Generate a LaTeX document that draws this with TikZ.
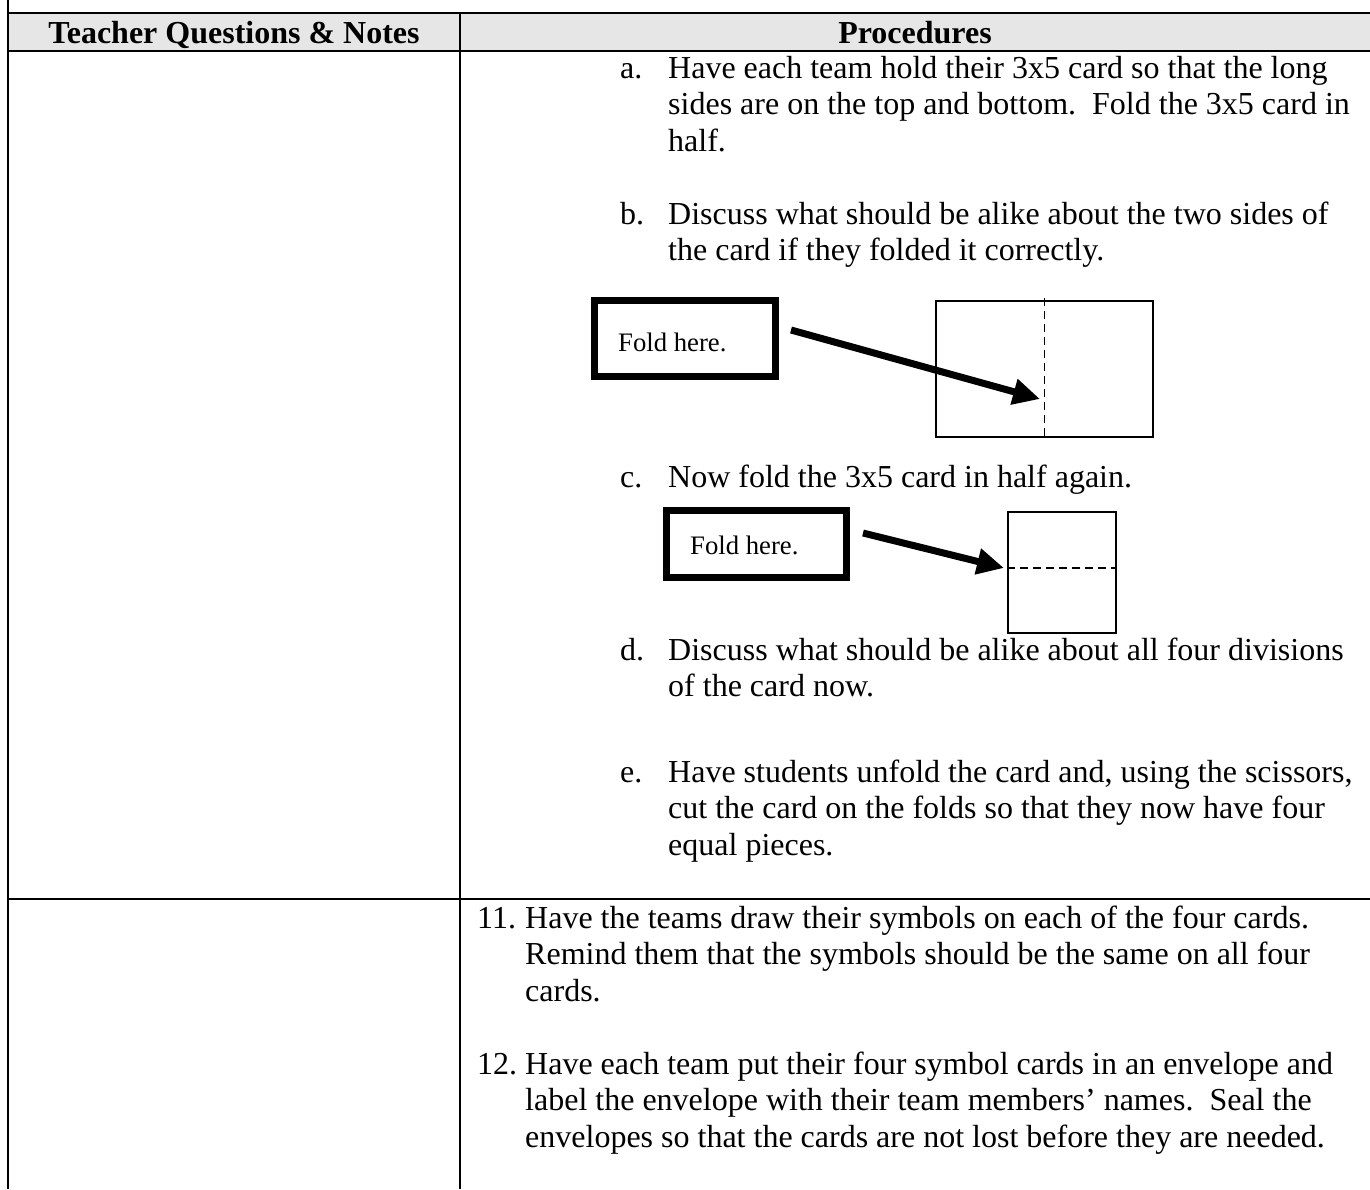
\documentclass[tikz,border=0pt]{standalone}
\usepackage{fontspec}
\setmainfont{Liberation Serif}
\usetikzlibrary{arrows.meta}
\definecolor{hdrgray}{HTML}{E6E6E6}
\newcommand{\bodyfont}{\fontsize{32}{38}\selectfont}
\newcommand{\foldfont}{\fontsize{26.7}{32}\selectfont}
\begin{document}
\begin{tikzpicture}[x=1pt,y=-1pt,
  rule/.style={line width=2.2pt},
  txt/.style={anchor=base west, inner sep=0pt, font=\bodyfont},
  head/.style={anchor=base, inner sep=0pt, font=\bodyfont\bfseries},
  foldtxt/.style={anchor=base west, inner sep=0pt, font=\foldfont},
  foldbox/.style={draw, line width=7pt, inner sep=0pt},
  card/.style={draw, line width=1.6pt, inner sep=0pt},
  foldline/.style={line width=1.8pt, dash pattern=on 8pt off 5pt},
  bigarrow/.style={line width=7pt, -{Triangle[length=27pt,width=25pt]}}
]
\useasboundingbox (0,0) rectangle (1370,1189);
% table
\fill[hdrgray] (8,13) rectangle (1370,51);
\draw[rule] (8,0) -- (8,1189);
\draw[rule] (8,13) -- (1370,13);
\draw[rule] (8,51) -- (1370,51);
\draw[rule] (8,899) -- (1370,899);
\draw[rule] (460,13) -- (460,1189);
% header
\node[head] (h1) at (234,43) {Teacher Questions \& Notes};
\node[head] (h2) at (915,43) {Procedures};
% a
\node[txt] (la) at (620,78) {a.};
\node[txt] (a1) at (668,78) {Have each team hold their 3x5 card so that the long};
\node[txt] (a2) at (668,114.5) {sides are on the top and bottom.\ \ Fold the 3x5 card in};
\node[txt] (a3) at (668,151) {half.};
% b
\node[txt] (lb) at (620,224) {b.};
\node[txt] (b1) at (668,224) {Discuss what should be alike about the two sides of};
\node[txt] (b2) at (668,260.5) {the card if they folded it correctly.};
% diagram 1
\node[foldbox, minimum width=181pt, minimum height=76pt] (box1) at (685,338) {};
\node[foldtxt] (f1) at (618,351) {Fold here.};
\node[card, minimum width=217pt, minimum height=136pt] (card1) at (1044.5,369) {};
\draw[foldline] ([yshift=2pt]card1.north) -- (card1.south);
\coordinate (s1) at (791,330);
\coordinate (t1) at (1040,399);
\draw[bigarrow] (s1) -- (t1);
% c
\node[txt] (lc) at (620,487) {c.};
\node[txt] (c1) at (668,487) {Now fold the 3x5 card in half again.};
% diagram 2
\node[foldbox, minimum width=180pt, minimum height=67pt] (box2) at (756.5,544) {};
\node[foldtxt] (f2) at (690,554) {Fold here.};
\node[card, minimum width=108pt, minimum height=121pt] (card2) at (1062,572.5) {};
\draw[foldline] ([yshift=4.5pt]card2.west) -- ([yshift=4.5pt]card2.east);
\coordinate (s2) at (863,533);
\coordinate (t2) at (1004,568);
\draw[bigarrow] (s2) -- (t2);
% d
\node[txt] (ld) at (620,660) {d.};
\node[txt] (d1) at (668,660) {Discuss what should be alike about all four divisions};
\node[txt] (d2) at (668,696.5) {of the card now.};
% e
\node[txt] (le) at (620,782) {e.};
\node[txt] (e1) at (668,782) {Have students unfold the card and, using the scissors,};
\node[txt] (e2) at (668,818.5) {cut the card on the folds so that they now have four};
\node[txt] (e3) at (668,855) {equal pieces.};
% 11
\node[txt] (l11) at (477,928) {11.};
\node[txt] (p1) at (525,928) {Have the teams draw their symbols on each of the four cards.};
\node[txt] (p2) at (525,964.5) {Remind them that the symbols should be the same on all four};
\node[txt] (p3) at (525,1001) {cards.};
% 12
\node[txt] (l12) at (477,1074) {12.};
\node[txt] (q1) at (525,1074) {Have each team put their four symbol cards in an envelope and};
\node[txt] (q2) at (525,1110.5) {label the envelope with their team members’ names.\ \ Seal the};
\node[txt] (q3) at (525,1147) {envelopes so that the cards are not lost before they are needed.};
\end{tikzpicture}
\end{document}
